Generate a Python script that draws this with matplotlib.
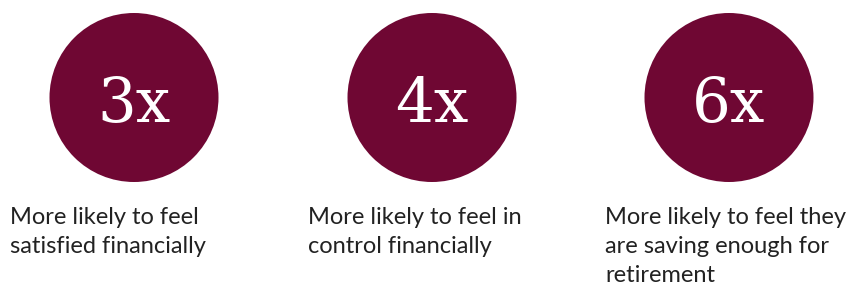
import matplotlib.pyplot as plt
from matplotlib.patches import Circle

multipliers = ["3x", "4x", "6x"]
labels = [
    "More likely to feel\nsatisfied financially",
    "More likely to feel in\ncontrol financially",
    "More likely to feel they\nare saving enough for\nretirement",
]
centers_x = [134, 432, 729]

maroon = "#6f0733"


def main():
    fig = plt.figure(figsize=(8.62, 2.89), dpi=100)
    ax = fig.add_axes([0, 0, 1, 1])
    ax.set_xlim(0, 862)
    ax.set_ylim(289, 0)
    ax.set_aspect("equal")
    ax.axis("off")

    for cx, mult, lab in zip(centers_x, multipliers, labels):
        ax.add_patch(Circle((cx, 97.5), 84.5, color=maroon, lw=0))
        ax.text(cx, 121.5, mult, ha="center", va="baseline", color="white",
                fontsize=44, family="DejaVu Serif")
        # one text per line so the baselines sit where the reference has them
        for i, line in enumerate(lab.split("\n")):
            ax.text(cx - 124, 223.5 + i * 29.5, line, ha="left", va="baseline",
                    color="#222222", fontsize=17, family="Lato")

    fig.savefig("out.png", dpi=100)


if __name__ == "__main__":
    main()
